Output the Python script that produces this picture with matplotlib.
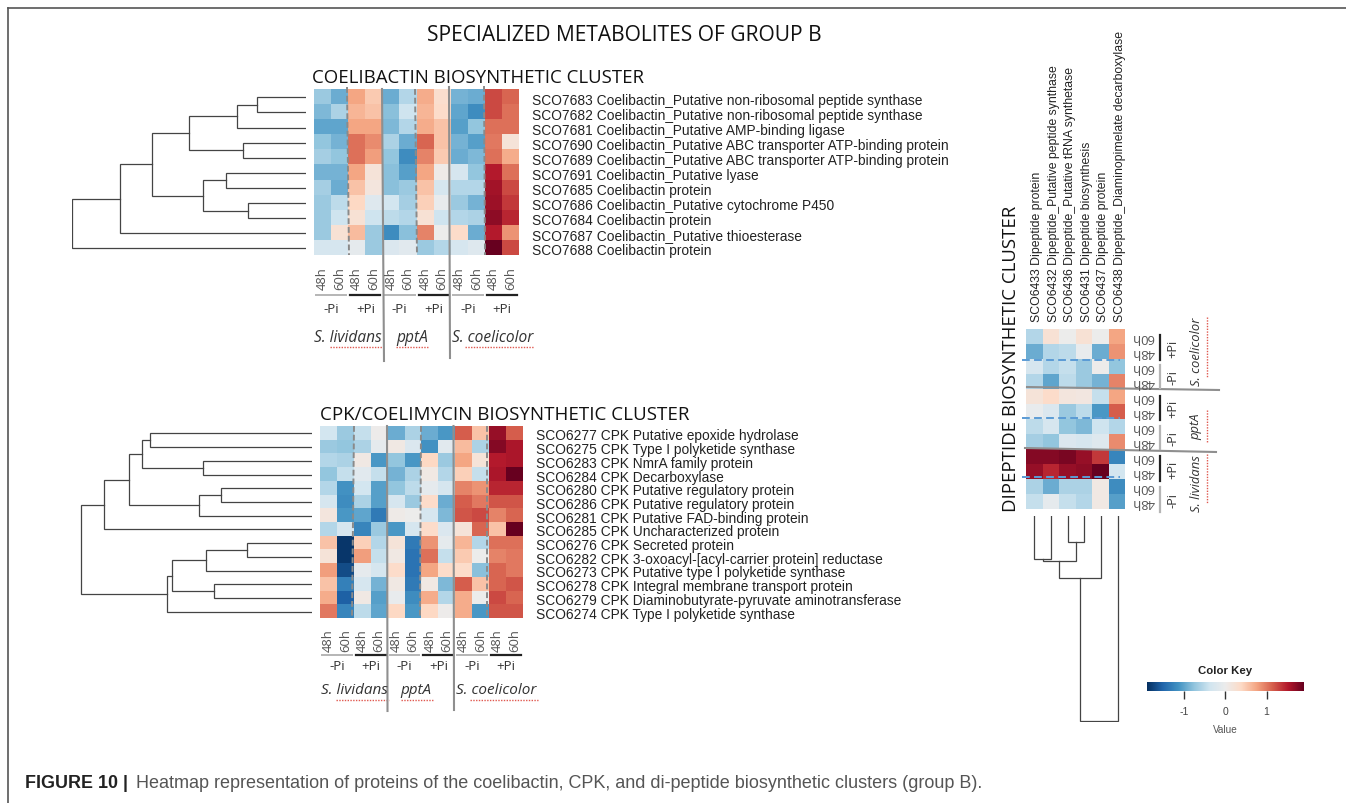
import matplotlib
matplotlib.use("Agg")
import matplotlib.pyplot as plt
from matplotlib.colors import LinearSegmentedColormap

W, H = 1346, 804
BODY = "Liberation Sans"
HEAD = "Open Sans"

# ---------- data ----------
coeli_genes = [
    "SCO7683 Coelibactin_Putative non-ribosomal peptide synthase",
    "SCO7682 Coelibactin_Putative non-ribosomal peptide synthase",
    "SCO7681 Coelibactin_Putative AMP-binding ligase",
    "SCO7690 Coelibactin_Putative ABC transporter ATP-binding protein",
    "SCO7689 Coelibactin_Putative ABC transporter ATP-binding protein",
    "SCO7691 Coelibactin_Putative lyase",
    "SCO7685 Coelibactin protein",
    "SCO7686 Coelibactin_Putative cytochrome P450",
    "SCO7684 Coelibactin protein",
    "SCO7687 Coelibactin_Putative thioesterase",
    "SCO7688 Coelibactin protein",
]
coeli_values = [
    [-.7, -.95, .75, .5, -.95, -.55, .7, .3, -.9, -.95, 1.25, 1.1],
    [-.85, -.6, .65, .55, -.8, -.4, .65, .35, -1.0, -1.2, 1.25, 1.05],
    [-1, -1, .75, .75, -.85, -.55, .7, .55, -1.05, -.75, 1.05, 1.05],
    [-.75, -.9, 1.05, .9, -.6, -.95, 1.1, .55, -.9, -1.05, 1.0, .2],
    [-.65, -.75, 1.05, .8, -.75, -1.2, .95, .5, -.95, -.85, 1.05, .7],
    [-.9, -.9, .75, .2, -.8, -1.05, .75, .05, -.3, -.75, 1.5, 1.05],
    [-.65, -.95, .55, .15, -.8, -.7, .55, -.3, -.55, -.55, 1.6, 1.25],
    [-.7, -.5, .4, -.2, -.35, -.65, .45, -.05, -.7, -.9, 1.62, 1.35],
    [-.7, -.4, .25, -.4, -.5, -.55, .25, -.4, -.55, -.6, 1.7, 1.45],
    [-.7, .25, .6, -.7, -1.2, -.8, .95, 0, .35, -.95, 1.5, .85],
    [-.3, -.3, -.1, -.7, -.25, -.15, -.7, -.55, -.3, -.2, 1.9, 1.25],
]
cpk_genes = [
    "SCO6277 CPK Putative epoxide hydrolase",
    "SCO6275 CPK Type I polyketide synthase",
    "SCO6283 CPK NmrA family protein",
    "SCO6284 CPK Decarboxylase",
    "SCO6280 CPK Putative regulatory protein",
    "SCO6286 CPK Putative regulatory protein",
    "SCO6281 CPK Putative FAD-binding protein",
    "SCO6285 CPK Uncharacterized protein",
    "SCO6276 CPK Secreted protein",
    "SCO6282 CPK 3-oxoacyl-[acyl-carrier protein] reductase",
    "SCO6273 CPK Putative type I polyketide synthase",
    "SCO6278 CPK Integral membrane transport protein",
    "SCO6279 CPK Diaminobutyrate-pyruvate aminotransferase",
    "SCO6274 CPK Type I polyketide synthase",
]
cpk_values = [
    [-.35, -.7, -.45, .02, -.95, -.6, -.95, -1.1, 1.15, .55, 1.65, 1.15],
    [-.7, -.75, -.6, -.1, .1, -.25, -1.15, -.15, .6, -.6, 1.75, 1.55],
    [-.55, -.6, .1, -1.1, -.75, -1.1, .4, -.7, .75, .2, 1.5, 1.55],
    [-.75, -.45, -.15, -.45, -.9, -.6, .1, -.55, .45, -.45, 1.55, 1.9],
    [-.55, -1.15, -.35, -1.05, -.75, -.5, -.1, -.3, .95, .85, 1.45, 1.45],
    [-.3, -1.2, -.6, -1.05, -.3, -.7, .35, -.95, 1.15, 1.0, 1.2, 1.2],
    [.15, -1.1, -1.0, -1.35, .05, 0, -.3, -.85, 1.2, 1.25, .95, 1.1],
    [-.55, -.3, -1.25, -.7, -1.1, -.3, .35, -.25, .2, 1.1, .55, 1.9],
    [.55, -1.85, .45, -.55, .2, -1.35, .85, -.1, .65, -.55, 1.05, 1.05],
    [.2, -1.85, .8, -.45, .1, -1.4, 1.05, -.45, .5, 0, .95, 1.0],
    [.8, -1.7, -.1, -.3, .35, -1.4, .75, .35, .35, -.8, 1.1, 1.0],
    [.55, -1.3, -.3, -.9, .1, -1.35, .1, -.85, 1.15, .55, 1.1, 1.2],
    [.7, -1.55, .1, -1.05, -.05, -1.2, .7, -.55, .7, 0, 1.25, 1.1],
    [1.0, -1.25, -.5, -1.0, .4, -1.1, .4, .02, .7, -1.1, 1.2, 1.2],
]
dip_genes = [
    "SCO6433 Dipeptide protein",
    "SCO6432 Dipeptide_Putative peptide synthase",
    "SCO6436 Dipeptide_Putative tRNA synthetase",
    "SCO6431 Dipeptide biosynthesis",
    "SCO6437 Dipeptide protein",
    "SCO6438 Dipeptide_Diaminopimelate decarboxylase",
]
dip_values = [
    [-.55, .25, 0, .25, 0, .75],
    [-.95, -.55, -.5, -.05, -.95, .85],
    [-.3, -.55, -.45, -.7, .02, -.75],
    [-.55, -1.0, -.5, -.7, -.9, .95],
    [.2, .35, .15, .12, -.45, .75],
    [-.05, -.25, -.7, -.5, -1.1, 1.15],
    [-.5, -.3, -.75, -.85, -.4, -.55],
    [-.65, -.75, -.25, -.3, -.2, .9],
    [1.75, 1.75, 1.8, 1.65, 1.35, -1.25],
    [1.65, 1.45, 1.65, 1.7, 1.9, -.35],
    [-.6, -.95, -.6, -.6, .1, -1.2],
    [-.45, -.1, -.45, -.55, .1, -1.05],
]
time_labels = ["48h", "60h"]
pi_labels = ["-Pi", "+Pi"]
strains = ["S. lividans", "pptA", "S. coelicolor"]
key_ticks = [-1, 0, 1]
VMAX = 1.9

# merges: (left node, right node, distance). Nodes below n are leaves, then merged clusters.
coeli_merges = [(0, 1, 49), (11, 2, 69), (3, 4, 63), (12, 13, 117), (5, 6, 80), (7, 8, 58),
                (15, 16, 103), (14, 17, 154), (18, 9, 186), (19, 10, 234)]
cpk_merges = [(0, 1, 162), (2, 3, 109), (14, 15, 170), (4, 5, 91), (17, 6, 113), (16, 18, 183),
              (19, 7, 208), (8, 9, 65), (21, 10, 106), (11, 12, 98), (22, 23, 140), (24, 13, 145),
              (20, 25, 231)]
dip_merges = [(2, 3, 26), (0, 1, 43), (7, 6, 45), (8, 4, 62), (9, 5, 205)]

# ---------- helpers ----------
cmap = LinearSegmentedColormap.from_list("key", [
    "#053061", "#2166ac", "#4393c3", "#92c5de", "#d1e5f0", "#ececec",
    "#fddbc7", "#f4a582", "#d6604d", "#b2182b", "#67001f"], N=256)

fig = plt.figure(figsize=(W / 100, H / 100), dpi=100)


def px_axes(x0, y0, x1, y1):
    return fig.add_axes([x0 / W, 1 - y1 / H, (x1 - x0) / W, (y1 - y0) / H])


def heat(values, box):
    ax = px_axes(*box)
    ax.pcolormesh(values, cmap=cmap, vmin=-VMAX, vmax=VMAX, linewidth=0, rasterized=True)
    ax.invert_yaxis()
    ax.axis("off")
    return ax


def dendro(merges, n, box, vertical=False):
    ax = px_axes(*box)
    pos = {i: (i + .5, 0.0) for i in range(n)}
    for k, (a, b, d) in enumerate(merges):
        pa, ha = pos[a]
        pb, hb = pos[b]
        xs, ys = [ha, d, d, hb], [pa, pa, pb, pb]
        if vertical:
            ax.plot(ys, xs, color="#444444", lw=0.9, solid_joinstyle="miter")
        else:
            ax.plot(xs, ys, color="#444444", lw=0.9, solid_joinstyle="miter")
        pos[n + k] = ((pa + pb) / 2, d)
    if vertical:
        ax.set_xlim(0, n)
        ax.set_ylim(box[3] - box[1], 0)
    else:
        ax.set_xlim(box[2] - box[0], 0)
        ax.set_ylim(n, 0)
    ax.axis("off")
    ax.patch.set_alpha(0)
    return ax


# ---------- heatmaps and dendrograms ----------
heat(coeli_values, (314, 90, 519, 256))
heat(cpk_values, (320, 427, 523, 619))
heat(dip_values, (1026, 330, 1125, 510))
dendro(coeli_merges, 11, (71.7, 90.8, 305.7, 256.9))
dendro(cpk_merges, 14, (80, 427.5, 312, 619.5))
dendro(dip_merges, 6, (1026, 517, 1126, 723), vertical=True)

# ---------- overlay in pixels ----------
ov = fig.add_axes([0, 0, 1, 1], zorder=5)
ov.set_xlim(0, W)
ov.set_ylim(H, 0)
ov.axis("off")
ov.patch.set_alpha(0)

# frame
ov.plot([8, 8], [9, H], color="#555555", lw=1.2)
ov.plot([8, W], [9, 9], color="#555555", lw=1.2)


def T(x, y, s, **kw):
    kw.setdefault("family", BODY)
    kw.setdefault("va", "center")
    return ov.text(x, y, s, **kw)


T(624.5, 35.5, "SPECIALIZED METABOLITES OF GROUP B", family=HEAD, fontsize=15.1, ha="center", color="#111111")
T(312, 78, "COELIBACTIN BIOSYNTHETIC CLUSTER", family=HEAD, fontsize=13.45, color="#111111")
T(320, 415, "CPK/COELIMYCIN BIOSYNTHETIC CLUSTER", family=HEAD, fontsize=13.5, color="#111111")
T(1011, 358.5, "DIPEPTIDE BIOSYNTHETIC CLUSTER", family=HEAD, fontsize=13.4, rotation=90, ha="center", color="#111111")

for i, g in enumerate(coeli_genes):
    T(532, 100.5 + 15.1 * i, g, fontsize=9.9, color="#222222")
for i, g in enumerate(cpk_genes):
    T(536, 436.5 + 13.7 * i, g, fontsize=9.95, color="#222222")
for i, g in enumerate(dip_genes):
    T(1037 + 16.6 * i, 322, g, fontsize=8.8, rotation=90, ha="center", va="bottom", color="#222222")


def strain_block(x0, cw, y_time, y_bar, y_pi, y_sp, sp_x, ink, sp_size):
    for c in range(12):
        T(x0 + cw * (c + .5), y_time, time_labels[c % 2], fontsize=9.4, rotation=90, ha="center",
          family=HEAD, color="#555555")
    for g in range(6):
        xa = x0 + 2 * g * cw
        ov.plot([xa + 2, xa + 2 * cw - 2], [y_bar, y_bar], lw=1.6 if g % 2 else 1.4,
                color="#222222" if g % 2 else "#b5b5b5")
        T(xa + cw, y_pi, pi_labels[g % 2], fontsize=9.6, ha="center", family=HEAD, color="#333333")
    for s, (sx, ux) in enumerate(zip(sp_x, ink)):
        T(sx, y_sp, strains[s], fontsize=sp_size, style="italic", ha="center", family=HEAD, color="#333333")
        ov.plot(ux, [y_sp + 9.5, y_sp + 9.5], color="#e0584f", lw=1.0, ls=(0, (1, 1)))


strain_block(314, 17.1, 279, 296, 310, 338, [348, 412, 493],
             [[330, 383], [396, 429], [465, 534]], 11.2)
strain_block(320, 16.9, 641, 656, 667, 691, [354, 416, 496],
             [[336, 389], [401, 434], [470, 538]], 11)


def sep_v(xa, xb, ya, yb, dashed):
    if dashed:
        ov.plot([xa, xb], [ya, yb], color="#8a8a8a", lw=1.4, ls=(0, (3, 1.5)))
    else:
        ov.plot([xa, xb], [ya, yb], color="#8f8f8f", lw=1.5)


sep_v(347, 349, 88, 256, True)
sep_v(382, 384, 90, 362, False)
sep_v(415, 417, 90, 256, True)
sep_v(449, 450, 88, 359, False)
sep_v(484, 485, 87, 256, True)

sep_v(354, 352, 427, 619, True)
sep_v(387, 387.5, 427, 712, False)
sep_v(421, 420, 427, 619, True)
sep_v(453.5, 454, 427, 711, False)
sep_v(487, 487, 427, 619, True)

# dipeptide separators and labels
for yy in (361, 419, 478):
    ov.plot([1022, 1120], [yy, yy], color="#5b9bd5", lw=1.4, ls=(0, (4, 2.2)))
sep_v(1027, 1219, 388, 391, False)
sep_v(1025, 1216, 449, 453, False)

row_h = 15
for r in range(12):
    T(1143, 330 + row_h * (r + .5), time_labels[(r + 1) % 2], fontsize=9.4, rotation=180, ha="center",
      family=HEAD, color="#555555")
for ya, yb, pi, dark in [(336, 361, 1, True), (366, 389, 0, False), (397, 421, 1, True),
                         (427, 450, 0, False), (457, 482, 1, True), (488, 513, 0, False)]:
    ov.plot([1160, 1160], [ya, yb], lw=1.6, color="#222222" if dark else "#b5b5b5")
    T(1173, (ya + yb) / 2, pi_labels[pi], fontsize=9.2, rotation=90, ha="center", family=HEAD, color="#333333")
for name, yc, ua, ub in [(strains[2], 352, 318, 378), (strains[1], 427, 411, 443), (strains[0], 484, 455, 505)]:
    T(1196, yc, name, fontsize=9.4, style="italic", rotation=90, ha="center", family=HEAD, color="#333333")
    ov.plot([1207, 1207], [ua, ub], color="#e0584f", lw=1.0, ls=(0, (1, 1)))

# colour key
ka = px_axes(1146.7, 682.7, 1303.7, 692)
grad = [[-VMAX + 2 * VMAX * i / 255 for i in range(256)]]
ka.imshow(grad, cmap=cmap, vmin=-VMAX, vmax=VMAX, aspect="auto", extent=(-VMAX, VMAX, 0, 1))
ka.set_yticks([])
ka.set_xticks(key_ticks)
ka.set_xticklabels([str(t) for t in key_ticks], family=BODY, fontsize=7.5, color="#444444")
ka.tick_params(axis="x", length=6, width=1, color="#333333", pad=5)
for sp in ka.spines.values():
    sp.set_visible(False)
T(1225, 671.5, "Color Key", fontsize=8.2, fontweight="bold", ha="center", color="#222222")
T(1225, 730.5, "Value", fontsize=7.2, ha="center", color="#555555")

# caption
T(25, 784, "FIGURE 10 |", fontsize=12.9, fontweight="bold", color="#222222")
T(136, 784, "Heatmap representation of proteins of the coelibactin, CPK, and di-peptide biosynthetic clusters (group B).",
  fontsize=12.95, color="#555555")

fig.savefig("out.png", dpi=100, facecolor="white")
